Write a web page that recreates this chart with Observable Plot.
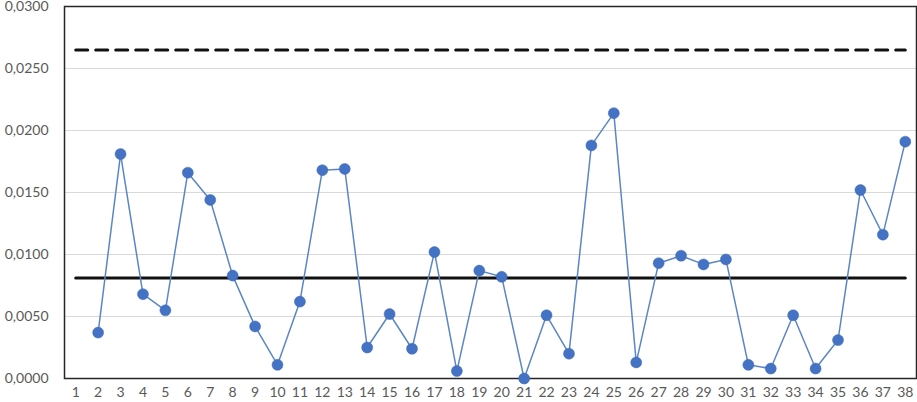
<!DOCTYPE html>
<html><head><meta charset="utf-8">
<script src="https://cdn.jsdelivr.net/npm/d3@7"></script>
<script src="https://cdn.jsdelivr.net/npm/@observablehq/plot@0.6"></script>
<style>body{margin:0;background:#fff}</style>
</head><body><div id="chart"></div>
<script>
const samples = [2,3,4,5,6,7,8,9,10,11,12,13,14,15,16,17,18,19,20,21,22,23,24,25,26,27,28,29,30,31,32,33,34,35,36,37,38];
const values = [0.0037,0.0181,0.0068,0.0055,0.0166,0.0144,0.0083,0.0042,0.0011,0.0062,0.0168,0.0169,0.0025,0.0052,0.0024,0.0102,0.0006,0.0087,0.0082,0.0000,0.0051,0.0020,0.0188,0.0214,0.0013,0.0093,0.0099,0.0092,0.0096,0.0011,0.0008,0.0051,0.0008,0.0031,0.0152,0.0116,0.0191];
const xTicks = d3.range(1, 39);
const yTicks = [0,0.005,0.01,0.015,0.02,0.025,0.03];
const meanValue = 0.0081;
const limitValue = 0.0265;
const refSpan = [1, 38];

const data = samples.map((s,i)=>({s, v: values[i]}));
const fmt = d => d.toFixed(4).replace(".", ",");

const chart = Plot.plot({
  width: 917, height: 402,
  marginLeft: 64, marginRight: 1, marginTop: 6, marginBottom: 24,
  style: {fontFamily: "Lato, 'Open Sans', sans-serif", fontSize: "14px", color: "#595959", background: "#fff"},
  x: {domain: [0.5, 38.5], ticks: xTicks, tickSize: 0, tickPadding: 9, tickFormat: d => String(d), label: null},
  y: {domain: [0, 0.03], ticks: yTicks, tickSize: 0, tickPadding: 16, tickFormat: fmt, label: null},
  marks: [
    Plot.ruleY(yTicks, {stroke: "#d9d9d9", strokeWidth: 1}),
    Plot.frame({stroke: "#262626", strokeWidth: 1.5}),
    Plot.line(refSpan.map(x=>({x, y: limitValue})), {x: "x", y: "y", stroke: "#111", strokeWidth: 3, strokeDasharray: "12,8"}),
    Plot.line(refSpan.map(x=>({x, y: meanValue})), {x: "x", y: "y", stroke: "#111", strokeWidth: 3}),
    Plot.line(data, {x: "s", y: "v", stroke: "#5b86c5", strokeWidth: 1.5}),
    Plot.dot(data, {x: "s", y: "v", r: 5.5, fill: "#4472c4", stroke: "#4068b0", strokeWidth: 0.5})
  ]
});
document.getElementById("chart").appendChild(chart);
</script></body></html>
